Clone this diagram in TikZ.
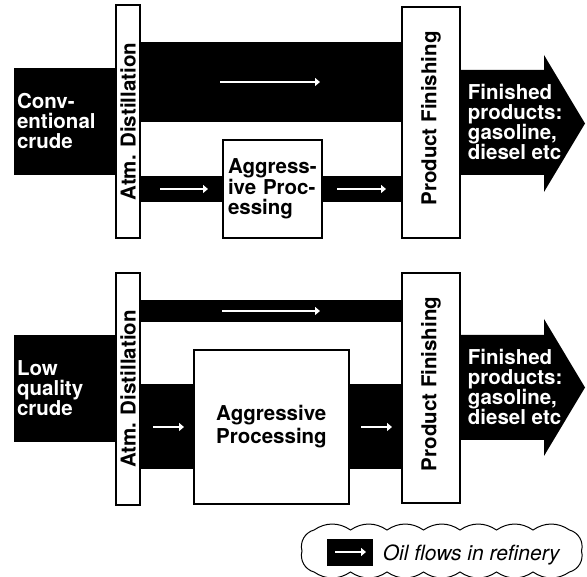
\documentclass[tikz,border=0pt]{standalone}
\usepackage{fontspec}
\setmainfont{TeX Gyre Heros}
\usetikzlibrary{arrows.meta}

\begin{document}
\begin{tikzpicture}[x = 1pt, y = -1pt, % one unit per pixel, y downwards
                > = {Triangle[length = 5pt, width = 8pt]}, % arrow head style
                line width = 1.8pt % line style
            ]

            \tikzstyle{unit}=[draw = black, fill = white, inner sep = 0pt]
            \tikzstyle{unitname}=[inner sep = 0pt,
            font = \bfseries\fontsize{20.5}{20}\selectfont]
            \tikzstyle{feed}=[fill = black, text = white, align = left,
            inner sep = 3pt, font = \bfseries\fontsize{20.5}{20}\selectfont]
            \tikzstyle{band}=[fill = black]
            \tikzstyle{flow}=[->, draw = white, line width = 1.6pt]

            \useasboundingbox (0,0) rectangle (587,577);

            % conventional crude
            \node[feed, text width = 96pt, minimum height = 107pt] (crude1)
            at (65,121.5) {Conv-\\entional\\crude};
            \node[unit, minimum width = 24pt, minimum height = 233pt] (atm1)
            at (128,121.5) {};
            \node[unitname, rotate = 90] (atm1t) at (atm1) {Atm. Distillation};
            \node[unit, minimum width = 58pt, minimum height = 231pt] (fin1)
            at (431,122.5) {};
            \node[unitname, rotate = 90] (fin1t) at ([yshift = 4pt]fin1.center)
            {Product Finishing};
            \node[unit, text width = 89pt, inner sep = 5pt, align = left,
            minimum height = 98pt, font = \bfseries\fontsize{20.5}{20.5}\selectfont]
            (agg1) at (272.5,189) {Aggress-\\ive Proc-\\essing};

            \fill[band] (atm1.east |- 0,42) rectangle (fin1.west |- 0,122);
            \fill[band] (atm1.east |- 0,176) rectangle (agg1.west |- 0,202);
            \fill[band] (agg1.east |- 0,176) rectangle (fin1.west |- 0,202);
            \fill (fin1.east |- 0,70) -- (544,70) -- (544,55) -- (585,123.5)
            -- (544,192) -- (544,175) -- (fin1.east |- 0,175) -- cycle;
            \node[feed, fill = none, anchor = west] (prod1) at (464,122)
            {Finished\\products:\\gasoline,\\diesel etc};

            \coordinate (a1) at (220,82); \coordinate (b1) at (320,82);
            \coordinate (a2) at (160,189); \coordinate (b2) at (208,189);
            \coordinate (a3) at (337,189); \coordinate (b3) at (386,189);
            \draw[flow] (a1) -- (b1); \draw[flow] (a2) -- (b2);
            \draw[flow] (a3) -- (b3);

            % low quality crude
            \node[feed, text width = 96pt, minimum height = 107pt] (crude2)
            at (65,388.5) {Low\\quality\\crude};
            \node[unit, minimum width = 24pt, minimum height = 232pt] (atm2)
            at (128,389) {};
            \node[unitname, rotate = 90] (atm2t) at (atm2) {Atm. Distillation};
            \node[unit, minimum width = 58pt, minimum height = 230pt] (fin2)
            at (431,388) {};
            \node[unitname, rotate = 90] (fin2t) at ([yshift = 4pt]fin2.center)
            {Product Finishing};
            \node[unit, minimum width = 155pt, minimum height = 154pt, align = left,
            font = \bfseries\fontsize{20.5}{23}\selectfont]
            (agg2) at (271.5,427) {Aggressive\\Processing};

            \fill[band] (atm2.east |- 0,300) rectangle (fin2.west |- 0,322);
            \fill[band] (atm2.east |- 0,384) rectangle (agg2.west |- 0,469);
            \fill[band] (agg2.east |- 0,384) rectangle (fin2.west |- 0,469);
            \fill (fin2.east |- 0,335) -- (544,335) -- (544,319) -- (585,387.5)
            -- (544,456) -- (544,440) -- (fin2.east |- 0,440) -- cycle;
            \node[feed, fill = none, anchor = west] (prod2) at (464,387)
            {Finished\\products:\\gasoline,\\diesel etc};

            \coordinate (c1) at (222,311); \coordinate (d1) at (320,311);
            \coordinate (c2) at (153,427); \coordinate (d2) at (184,427);
            \coordinate (c3) at (361,427); \coordinate (d3) at (392,427);
            \draw[flow] (c1) -- (d1); \draw[flow] (c2) -- (d2);
            \draw[flow] (c3) -- (d3);

            % legend
            \draw[line width = 1pt] (314,530)
            \foreach \i in {1,...,7} { to[bend left = 34] ++(36.5,0) }
            to[bend left = 45] ++(12,21) to[bend left = 45] ++(-12,21)
            \foreach \i in {1,...,7} { to[bend left = 34] ++(-36.5,0) }
            to[bend left = 45] ++(-12,-21) to[bend left = 45] ++(12,-21);
            \node[fill = black, minimum width = 46pt, minimum height = 27pt,
            inner sep = 0pt] (key) at (350,552.5) {};
            \coordinate (k1) at (335,552); \coordinate (k2) at (366,552);
            \draw[flow] (k1) -- (k2);
            \node[anchor = base west, inner sep = 0pt,
            font = \itshape\fontsize{21}{21}\selectfont] (keyt) at (382,560)
            {Oil flows in refinery};
        \end{tikzpicture}
\end{document}
